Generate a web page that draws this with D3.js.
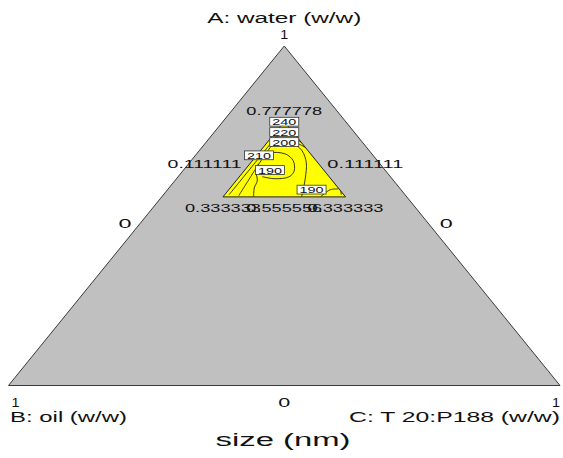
<!DOCTYPE html>
<html><head><meta charset="utf-8">
<script src="https://cdn.jsdelivr.net/npm/d3@7"></script>
<style>
html,body{margin:0;padding:0;background:#fff;}
svg{display:block;font-family:"Liberation Sans",Arial,sans-serif;}
</style></head>
<body><svg id="chart" width="563" height="458"></svg>
<script>
// ---------- data (ternary compositions [A water, B oil, C T20:P188]) ----------
const vertexNames = ["A: water (w/w)", "B: oil (w/w)", "C:  T 20:P188 (w/w)"];
const chartTitle = "size (nm)";
const fullTriangle = [[1, 0, 0], [0, 1, 0], [0, 0, 1]];
const designRegion = [[0.777778, 0.111111, 0.111111], [0.555556, 0.333333, 0.111111], [0.555556, 0.111111, 0.333333]];
const regionTickLabels = ["0.777778", "0.111111", "0.111111", "0.333333", "0.555556", "0.333333"];
const outerTickLabels = ["1", "1", "1", "0", "0", "0"];

// contour lines
const contourL1 = [[0.745, 0.136, 0.119], [0.65, 0.231, 0.119], [0.562, 0.319, 0.119]];
const contourL2 = [[0.742, 0.137, 0.121], [0.65, 0.222, 0.128], [0.559, 0.303, 0.138]];
const contourLeft190 = [[0.653, 0.2205, 0.1265], [0.626, 0.2377, 0.1363], [0.603, 0.2474, 0.1496], [0.582, 0.2633, 0.1547], [0.556, 0.2775, 0.1665]];
const contourLoop = [[0.665, 0.2237, 0.1113], [0.685, 0.1865, 0.1285], [0.682, 0.157, 0.161], [0.662, 0.1527, 0.1853], [0.632, 0.166, 0.202], [0.615, 0.1835, 0.2015], [0.609, 0.212, 0.179], [0.615, 0.2323, 0.1527]];
const contourMid = [[0.7176, 0.1267, 0.1557], [0.691, 0.122, 0.187], [0.656, 0.132, 0.212], [0.609, 0.1575, 0.2335], [0.556, 0.1905, 0.2535]];
const contourR1 = [[0.729, 0.1155, 0.1555], [0.691, 0.104, 0.205], [0.647, 0.097, 0.256], [0.603, 0.1005, 0.2965], [0.562, 0.1155, 0.3225]];
const contourR2 = [[0.7235, 0.1275, 0.149], [0.700, 0.110, 0.190], [0.6706, 0.0959, 0.2335], [0.638, 0.087, 0.275]];
const contourR3 = [[0.556, 0.156, 0.288], [0.5765, 0.1285, 0.295], [0.579, 0.1125, 0.3085]];
const contours = [contourL1, contourL2, contourLeft190, contourLoop, contourMid, contourR1, contourR2, contourR3];

const contourLabelValues = ["240", "220", "200", "210", "190", "190"];
const contourLabelPoints = [[0.777, 0.1115, 0.1115], [0.7465, 0.12675, 0.12675], [0.717, 0.1415, 0.1415], [0.678, 0.2067, 0.1153], [0.6347, 0.2086, 0.1567], [0.577, 0.162, 0.261]];

// ---------- scales ----------
const svg = d3.select("#chart");
const yScale = d3.scaleLinear().domain([0, 1]).range([385.5, 46]);       // A fraction
const xScale = d3.scaleLinear().domain([-1, 1]).range([8.5, 560]);      // C - B
const px = p => xScale(p[2] - p[1]);
const py = p => yScale(p[0]);
const line = d3.line().x(px).y(py);

// bounding triangle
svg.append("path").attr("d", line(fullTriangle) + "Z")
  .attr("fill", "#c0c0c0").attr("stroke", "#3a3a3a").attr("stroke-width", 1);

// design region
svg.append("path").attr("d", line(designRegion) + "Z")
  .attr("fill", "#ffff00").attr("stroke", "#222").attr("stroke-width", 1);

const clip = svg.append("clipPath").attr("id", "reg");
clip.append("path").attr("d", line(designRegion) + "Z");

svg.append("g").attr("clip-path", "url(#reg)")
  .selectAll("path").data(contours).join("path")
  .attr("d", d3.line().x(px).y(py).curve(d3.curveCatmullRom))
  .attr("fill", "none").attr("stroke", "#222").attr("stroke-width", 0.9);

// text helper with horizontally stretched glyphs (as in the reference)
function txt(cx, baseline, s, size, width, anchor, weight) {
  let x0 = cx;
  if (anchor === "middle") x0 = cx - width / 2;
  else if (anchor === "end") x0 = cx - width;
  return svg.append("text").attr("x", x0).attr("y", baseline)
    .attr("font-size", size).attr("fill", "#111")
    .attr("font-weight", weight || "normal")
    .attr("textLength", width).attr("lengthAdjust", "spacingAndGlyphs")
    .text(s);
}

// contour labels
contourLabelValues.forEach((v, i) => {
  const p = contourLabelPoints[i];
  const cx = px(p), cy = py(p);
  svg.append("rect").attr("x", cx - 14.5).attr("y", cy - 4.4).attr("width", 29).attr("height", 8.8)
    .attr("fill", "#fff").attr("stroke", "#333").attr("stroke-width", 0.8);
  txt(cx, cy + 3.5, v, 9.5, 24, "middle");
});

// region tick labels
const apex = designRegion[0], bl = designRegion[1], br = designRegion[2];
const midL = apex.map((v, k) => (v + bl[k]) / 2), midR = apex.map((v, k) => (v + br[k]) / 2);
const midB = bl.map((v, k) => (v + br[k]) / 2);
txt(px(apex), py(apex) - 6.5, regionTickLabels[0], 11.5, 76, "middle");
txt(px(midL) - 12, py(midL) + 9, regionTickLabels[1], 11.5, 74, "end");
txt(px(midR) + 12.5, py(midR) + 9, regionTickLabels[2], 11.5, 76, "start");
txt(px(bl), py(bl) + 15.5, regionTickLabels[3], 11.5, 76, "middle");
txt(px(midB), py(midB) + 15.5, regionTickLabels[4], 11.5, 76, "middle");
txt(px(br), py(br) + 15.5, regionTickLabels[5], 11.5, 76, "middle");

// outer tick labels
const vA = fullTriangle[0], vB = fullTriangle[1], vC = fullTriangle[2];
txt(px(vA), py(vA) - 7, outerTickLabels[0], 13.5, 8, "middle");
txt(px(vB) + 3, py(vB) + 21, outerTickLabels[1], 13.5, 8, "start");
txt(px(vC), py(vC) + 21, outerTickLabels[2], 13.5, 8, "end");
const mAB = [0.5, 0.5, 0], mAC = [0.5, 0, 0.5], mBC = [0, 0.5, 0.5];
txt(px(mAB) - 21.5, py(mAB) + 12.5, outerTickLabels[3], 13.5, 13, "middle");
txt(px(mAC) + 24, py(mAC) + 12.5, outerTickLabels[4], 13.5, 13, "middle");
txt(px(mBC), py(mBC) + 21, outerTickLabels[5], 13.5, 12, "middle");

// vertex names and title
txt(px(vA), 22.5, vertexNames[0], 14, 154, "middle");
txt(px(vB) + 1.5, 422.3, vertexNames[1], 14, 117, "start");
txt(px(vC), 422.3, vertexNames[2], 14, 211, "end");
txt(283, 445.5, chartTitle, 17.5, 135, "middle");
</script>
</body></html>
